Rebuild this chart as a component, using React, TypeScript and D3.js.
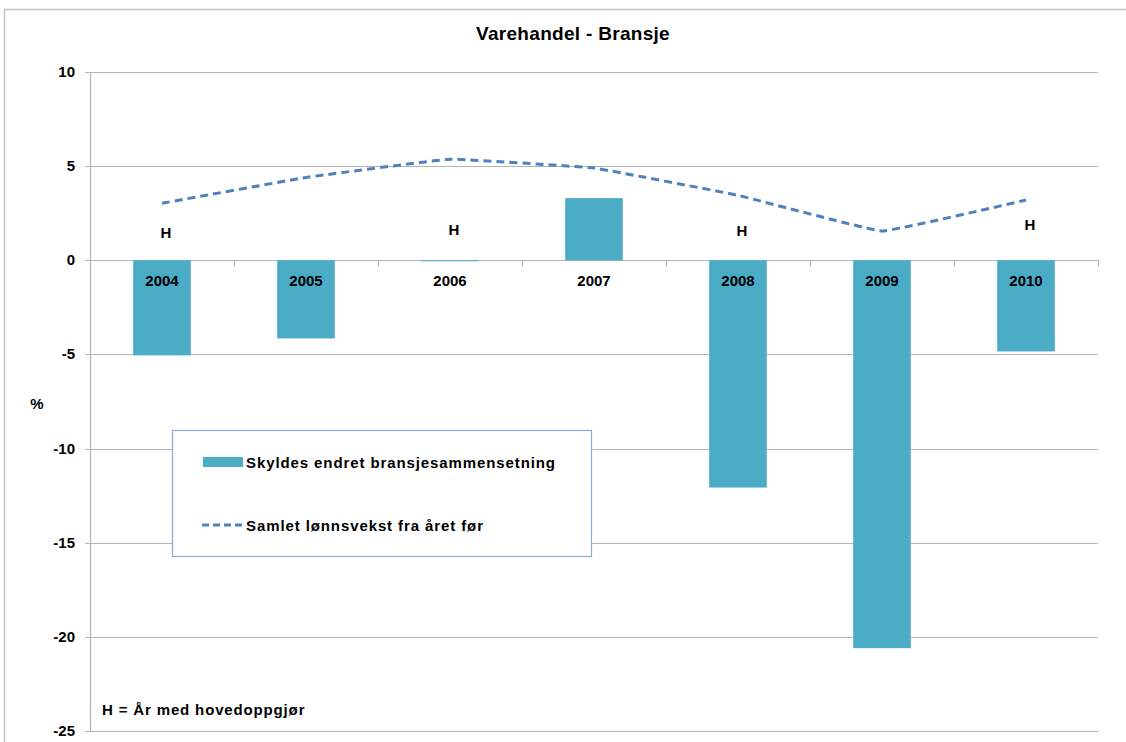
import { useEffect, useRef } from 'react';
import * as d3 from 'd3';

const years = ['2004', '2005', '2006', '2007', '2008', '2009', '2010'];
const bransje = [-5.05, -4.15, -0.05, 3.3, -12.07, -20.6, -4.84];
const lonnsvekst = [3.03, 4.4, 5.37, 4.9, 3.45, 1.55, 3.2];
const hovedoppgjor = [true, false, true, false, true, false, true];
const hLabelY = [1.45, 0, 1.6, 0, 1.55, 0, 1.85];
const yTicks = [10, 5, 0, -5, -10, -15, -20, -25];

const W = 1126;
const H = 742;

const App = () => {
    const ref = useRef<SVGSVGElement>(null);

    useEffect(() => {
        const svg = d3.select(ref.current);
        svg.selectAll('*').remove();

        const margin = { top: 72, right: 28, bottom: 11, left: 90 };
        const x = d3.scaleBand().domain(years).range([margin.left, W - margin.right]).paddingInner(0.6).paddingOuter(0.3);
        const band = d3.scaleBand().domain(years).range([margin.left, W - margin.right]);
        const y = d3.scaleLinear().domain([-25, 10]).range([H - margin.bottom, margin.top]);
        const font = 'Liberation Sans, Arial, sans-serif';

        // frame
        svg.append('path')
            .attr('d', `M4.5,${H} V9.5 H${W}`)
            .attr('fill', 'none')
            .attr('stroke', '#c4c4c4')
            .attr('stroke-width', 1.5);

        svg.append('text')
            .attr('x', 573).attr('y', 40)
            .attr('text-anchor', 'middle')
            .style('font-family', font).style('font-size', '19px').style('font-weight', 'bold')
            .style('letter-spacing', '0.3px')
            .text('Varehandel - Bransje');

        // grid
        svg.append('g').selectAll('line')
            .data(yTicks)
            .enter().append('line')
            .attr('x1', margin.left - 5).attr('x2', W - margin.right)
            .attr('y1', (d: number) => Math.round(y(d)) + 0.5).attr('y2', (d: number) => Math.round(y(d)) + 0.5)
            .attr('stroke', '#b4b4b4').attr('stroke-width', 1.2);

        svg.append('line')
            .attr('x1', margin.left + 0.5).attr('x2', margin.left + 0.5)
            .attr('y1', y(10)).attr('y2', y(-25))
            .attr('stroke', '#b4b4b4').attr('stroke-width', 1.2);

        svg.append('g').selectAll('text')
            .data(yTicks)
            .enter().append('text')
            .attr('x', 75).attr('y', (d: number) => y(d) + 5)
            .attr('text-anchor', 'end')
            .style('font-family', font).style('font-size', '15px').style('font-weight', 'bold')
            .text((d: number) => d);

        svg.append('text')
            .attr('x', 37).attr('y', 409)
            .attr('text-anchor', 'middle')
            .style('font-family', font).style('font-size', '15px').style('font-weight', 'bold')
            .text('%');

        // bars
        svg.append('g').selectAll('rect')
            .data(bransje)
            .enter().append('rect')
            .attr('x', (d: number, i: number) => x(years[i]) as number)
            .attr('width', x.bandwidth())
            .attr('y', (d: number) => y(Math.max(0, d)))
            .attr('height', (d: number) => Math.max(1, Math.abs(y(d) - y(0))))
            .attr('fill', '#4bacc6');

        // category ticks on zero line
        svg.append('g').selectAll('line')
            .data(years)
            .enter().append('line')
            .attr('x1', (d: string, i: number) => margin.left + (i + 1) * band.bandwidth() + 0.5)
            .attr('x2', (d: string, i: number) => margin.left + (i + 1) * band.bandwidth() + 0.5)
            .attr('y1', y(0)).attr('y2', y(0) + 6)
            .attr('stroke', '#b4b4b4').attr('stroke-width', 1.2);

        svg.append('g').selectAll('text')
            .data(years)
            .enter().append('text')
            .attr('x', (d: string) => (band(d) as number) + band.bandwidth() / 2)
            .attr('y', y(0) + 26)
            .attr('text-anchor', 'middle')
            .style('font-family', font).style('font-size', '15px').style('font-weight', 'bold')
            .text((d: string) => d);

        // line (light smoothing)
        const line = d3.line<number>()
            .x((d: number, i: number) => (band(years[i]) as number) + band.bandwidth() / 2)
            .y((d: number) => y(d))
            .curve(d3.curveCardinal.tension(0.8));
        svg.append('path')
            .datum(lonnsvekst)
            .attr('d', line)
            .attr('fill', 'none')
            .attr('stroke', '#4f81bd')
            .attr('stroke-width', 3)
            .attr('stroke-dasharray', '8,5');

        // H labels
        svg.append('g').selectAll('text')
            .data(years.filter((d, i) => hovedoppgjor[i]))
            .enter().append('text')
            .attr('x', (d: string) => (band(d) as number) + band.bandwidth() / 2 + 4)
            .attr('y', (d: string) => y(hLabelY[years.indexOf(d)]) + 5)
            .attr('text-anchor', 'middle')
            .style('font-family', font).style('font-size', '15px').style('font-weight', 'bold')
            .text('H');

        // legend
        const lg = svg.append('g');
        lg.append('rect')
            .attr('x', 172.5).attr('y', 430.5).attr('width', 419).attr('height', 126)
            .attr('fill', '#fff').attr('stroke', '#8ea9d6').attr('stroke-width', 1.2);
        lg.append('rect')
            .attr('x', 203).attr('y', 457).attr('width', 40).attr('height', 10)
            .attr('fill', '#4bacc6');
        lg.append('text')
            .attr('x', 246).attr('y', 468)
            .style('font-family', font).style('font-size', '15px').style('font-weight', 'bold')
            .style('letter-spacing', '0.9px')
            .text('Skyldes endret bransjesammensetning');
        lg.append('line')
            .attr('x1', 202).attr('x2', 243).attr('y1', 525).attr('y2', 525)
            .attr('stroke', '#4f81bd').attr('stroke-width', 3).attr('stroke-dasharray', '7,4');
        lg.append('text')
            .attr('x', 246).attr('y', 531)
            .style('font-family', font).style('font-size', '15px').style('font-weight', 'bold')
            .style('letter-spacing', '0.9px')
            .text('Samlet lønnsvekst fra året før');

        svg.append('text')
            .attr('x', 102).attr('y', 715)
            .style('font-family', font).style('font-size', '15px').style('font-weight', 'bold')
            .style('letter-spacing', '0.85px')
            .text('H = År med hovedoppgjør');
    }, []);

    return (
        <svg ref={ref} width={W} height={H} style={{ position: 'absolute', left: 0, top: 0, background: '#fff' }} />
    );
};

export default App;
